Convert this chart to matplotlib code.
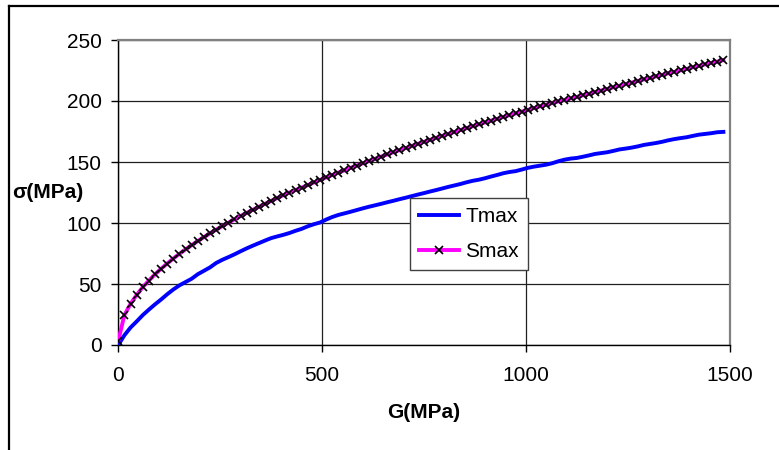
import matplotlib
matplotlib.use("Agg")
import matplotlib.pyplot as plt
from matplotlib.lines import Line2D

plt.rcParams['font.family'] = ['Liberation Sans', 'DejaVu Sans']

# G values (MPa)
G = [0, 15, 30, 45, 60, 75, 90, 105, 120, 135,
     150, 165, 180, 195, 210, 225, 240, 255, 270, 285,
     300, 315, 330, 345, 360, 375, 390, 405, 420, 435,
     450, 465, 480, 495, 510, 525, 540, 555, 570, 585,
     600, 615, 630, 645, 660, 675, 690, 705, 720, 735,
     750, 765, 780, 795, 810, 825, 840, 855, 870, 885,
     900, 915, 930, 945, 960, 975, 990, 1005, 1020, 1035,
     1050, 1065, 1080, 1095, 1110, 1125, 1140, 1155, 1170, 1185,
     1200, 1215, 1230, 1245, 1260, 1275, 1290, 1305, 1320, 1335,
     1350, 1365, 1380, 1395, 1410, 1425, 1440, 1455, 1470, 1485]

Tmax = [0.0, 8.0, 14.3, 19.3, 24.5, 29.0, 33.3, 37.3, 41.6, 45.5,
        48.9, 51.6, 54.3, 58.0, 60.8, 63.6, 67.2, 69.8, 72.0, 74.3,
        76.8, 79.2, 81.4, 83.5, 85.6, 87.6, 89.0, 90.3, 91.8, 93.6,
        95.2, 97.3, 99.0, 100.4, 102.8, 104.9, 106.6, 107.9, 109.2, 110.6,
        112.0, 113.3, 114.5, 115.7, 117.0, 118.2, 119.5, 120.7, 122.0, 123.3,
        124.5, 125.8, 127.0, 128.3, 129.6, 130.8, 132.0, 133.4, 134.6, 135.5,
        136.7, 138.1, 139.4, 140.8, 141.8, 142.5, 143.8, 145.2, 146.2, 147.0,
        147.8, 149.0, 150.6, 151.9, 152.8, 153.3, 154.3, 155.4, 156.6, 157.3,
        158.0, 159.1, 160.3, 161.0, 161.8, 162.8, 164.0, 164.8, 165.6, 166.6,
        167.8, 168.8, 169.6, 170.3, 171.4, 172.4, 173.0, 173.6, 174.4, 174.7]

Smax = [3.5, 24.6, 33.7, 41.0, 47.4, 52.8, 57.9, 62.5, 66.8, 70.9,
        74.7, 78.4, 81.8, 85.2, 88.4, 91.5, 94.5, 97.4, 100.2, 103.0,
        105.7, 108.3, 110.8, 113.3, 115.7, 118.1, 120.5, 122.8, 125.0, 127.0,
        129.0, 131.1, 133.2, 135.3, 137.3, 139.3, 141.3, 143.2, 145.2, 147.1,
        148.9, 150.8, 152.6, 154.4, 156.2, 158.0, 159.7, 161.4, 163.1, 164.8,
        166.5, 168.2, 169.8, 171.4, 173.0, 174.6, 176.2, 177.8, 179.3, 180.9,
        182.4, 183.9, 185.4, 186.9, 188.4, 189.8, 191.3, 192.7, 194.2, 195.6,
        197.0, 198.3, 199.6, 200.9, 202.1, 203.3, 204.6, 205.9, 207.3, 208.6,
        209.9, 211.2, 212.5, 213.8, 215.1, 216.4, 217.7, 218.9, 220.2, 221.4,
        222.7, 223.9, 225.1, 226.3, 227.6, 228.8, 230.0, 231.2, 232.3, 233.5]

x_ticks = [0, 500, 1000, 1500]
y_ticks = [0, 50, 100, 150, 200, 250]

W, H = 779, 450
fig = plt.figure(figsize=(W / 100, H / 100), dpi=100)
ax = fig.add_axes([118.3 / W, 1 - 345 / H, (729.5 - 118.3) / W, (345 - 40) / H])

ax.plot(G, Tmax, color='#0000FF', lw=2.8, label='Tmax', zorder=3)
ax.plot(G, Smax, color='#FF00FF', lw=2.8, marker='x', markersize=6.0,
        markeredgecolor='black', markeredgewidth=1.2, label='Smax', zorder=4)

ax.set_xlim(0, 1500)
ax.set_ylim(0, 250)
ax.set_xticks(x_ticks)
ax.set_yticks(y_ticks)
ax.tick_params(axis='both', direction='out', length=5, width=1, labelsize=15,
               color='black')
ax.tick_params(axis='x', pad=10)
ax.tick_params(axis='y', pad=7)
ax.grid(True, color='#202020', lw=0.9)
ax.set_axisbelow(True)
for s in ['top', 'right']:
    ax.spines[s].set_color('#808080')
    ax.spines[s].set_linewidth(1.6)
for s in ['left', 'bottom']:
    ax.spines[s].set_color('black')
    ax.spines[s].set_linewidth(1.0)

fig.text(424 / W, 1 - 413 / H, 'G(MPa)', ha='center', va='center',
         fontsize=15, fontweight='bold')
fig.text(12 / W, 1 - 192 / H, 'σ(MPa)', ha='left', va='center',
         fontsize=15, fontweight='bold')

leg = ax.legend(loc='upper left', bbox_to_anchor=(0.477, 0.482), fontsize=15,
                frameon=True, fancybox=False, shadow=False, handlelength=1.9,
                handletextpad=0.3, borderpad=0.45, labelspacing=0.75,
                borderaxespad=0.0, markerscale=1.0)
leg.get_frame().set_edgecolor('#404040')
leg.get_frame().set_linewidth(1.0)
leg.get_frame().set_alpha(1.0)

# outer border (cropped rectangle)
fig.add_artist(Line2D([9 / W, 1.0], [1 - 5.5 / H, 1 - 5.5 / H], transform=fig.transFigure,
                      color='black', lw=1.6))
fig.add_artist(Line2D([9 / W, 9 / W], [0.0, 1 - 5.5 / H], transform=fig.transFigure,
                      color='black', lw=1.6))

fig.savefig('out.png', dpi=100)
